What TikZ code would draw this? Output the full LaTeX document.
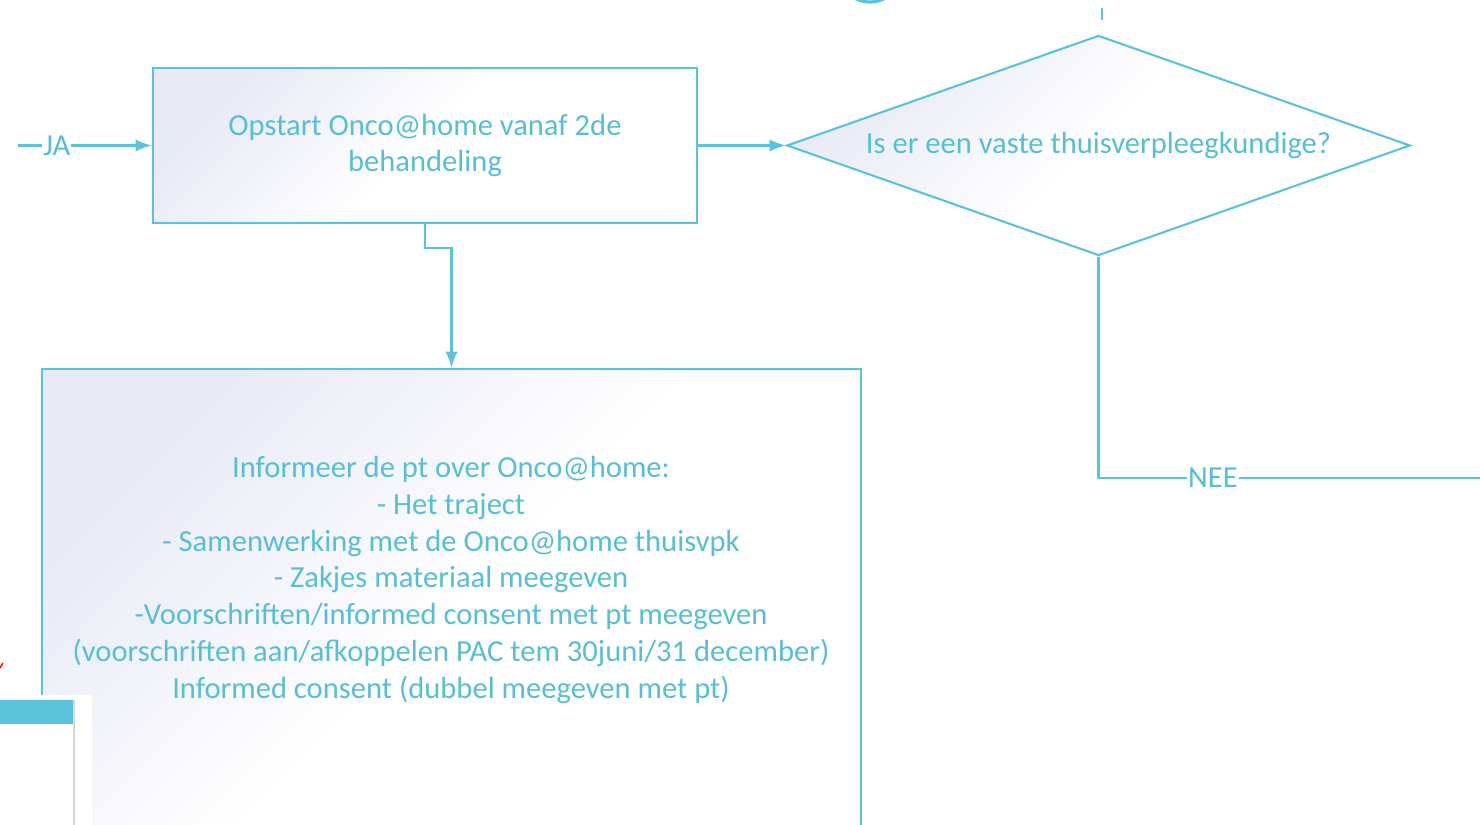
\documentclass[tikz,border=0pt]{standalone}
\usepackage{fontspec}
\setmainfont{Carlito}
\usetikzlibrary{positioning, arrows, shapes.geometric}
\definecolor{onco}{RGB}{90,195,218}
\definecolor{oncotext}{RGB}{88,190,214}
\definecolor{lavendel}{RGB}{232,234,245}
\definecolor{kopgrijs}{RGB}{215,215,215}
\begin{document}
\begin{tikzpicture}[x=0.01cm,y=-0.01cm,>=latex,
    every node/.style={text=oncotext,font=\fontsize{8.7}{10.5}\selectfont},
    blok/.style={rectangle,draw=onco,line width=0.6pt,top color=lavendel,
      bottom color=white,middle color=white,shading angle=45,align=center},
    vraag/.style={diamond,draw=onco,line width=0.6pt,top color=lavendel,
      bottom color=white,middle color=white,shading angle=45,aspect=2.83,inner sep=0pt,
      minimum width=6.23cm,minimum height=2.2cm},
    lijn/.style={draw=onco,line width=0.6pt},
    etiket/.style={fill=white,inner sep=0.3pt}]
  \useasboundingbox (0,0) rectangle (1480,825);
  \clip (0,0) rectangle (1480,825);
  % blokken
  \node[blok,minimum width=5.44cm,minimum height=1.55cm] (opstart) at (425,145.5)
    {Opstart Onco@home vanaf 2de\\behandeling};
  \node[vraag] (vaste) at (1098.5,145.5) {Is er een vaste thuisverpleegkundige?};
  \node[blok,minimum width=8.19cm,minimum height=5cm] (informeer) at (451.5,619) {};
  \node[align=center] (informtekst) at (451,580)
    {Informeer de pt over Onco@home:\\- Het traject\\
     - Samenwerking met de Onco@home thuisvpk\\- Zakjes materiaal meegeven\\
     -Voorschriften/informed consent met pt meegeven\\
     (voorschriften aan/afkoppelen PAC tem 30juni/31 december)\\
     Informed consent (dubbel meegeven met pt)};
  \node[circle,draw=onco,line width=0.9pt,minimum size=0.64cm] (begin) at (870,-30) {};
  % losse eindpunten
  \coordinate (ja) at (18,145.5);
  \coordinate (nee) at (1480,478);
  \coordinate (boven1) at (1102,8);
  \coordinate (boven2) at (1102,20);
  % verbindingen
  \draw[lijn,->] (ja) -- node[etiket,pos=0.29]{JA} (opstart);
  \draw[lijn,->] (opstart.east) -- (vaste.west);
  \draw[lijn,->] (opstart.south) -- ++(0,24) -| (informeer.north);
  \draw[lijn] (vaste.south) |- node[etiket,pos=0.65]{NEE} (nee);
  \draw[lijn] (boven1) -- (boven2);
  % venster linksonder
  \fill[white] (0,695) rectangle (92,825);
  \fill[onco] (0,700) rectangle (74,724);
  \draw[kopgrijs] (74,700) -- (74,825);
  \draw[red] (0,668) -- (3,663);
\end{tikzpicture}
\end{document}
